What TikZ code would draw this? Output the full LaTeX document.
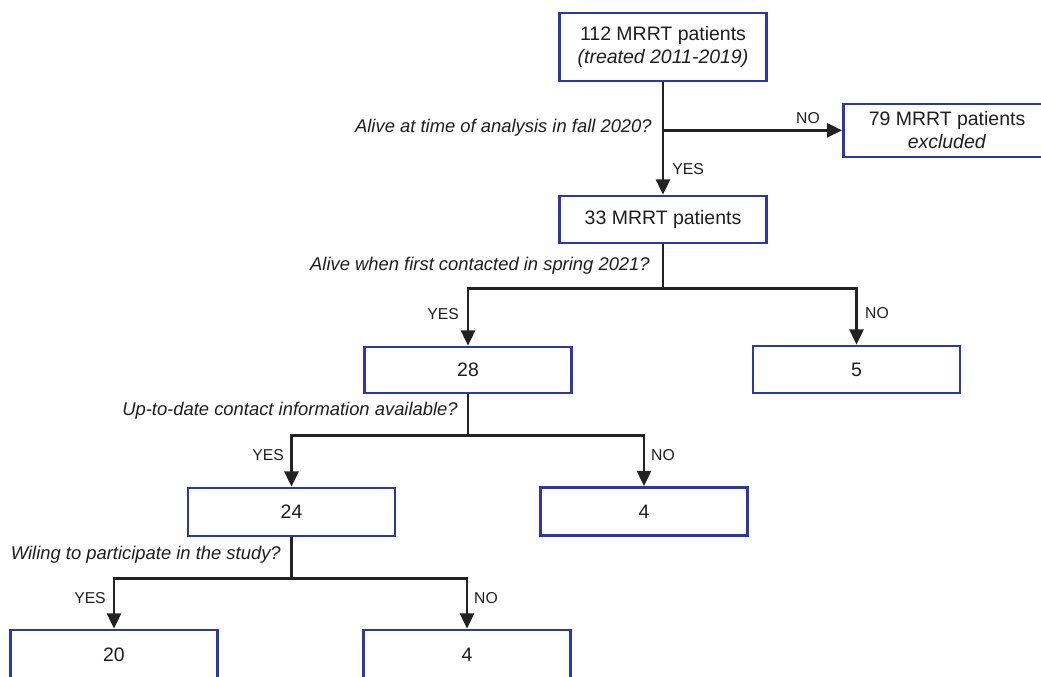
\documentclass[tikz,border=0pt]{standalone}
\usepackage{fontspec}
\setmainfont{Liberation Sans}
\usetikzlibrary{arrows.meta}
\definecolor{boxblue}{RGB}{44,56,168}
\definecolor{linegray}{RGB}{34,34,34}
\definecolor{txt}{RGB}{30,30,30}
\begin{document}
\begin{tikzpicture}[x=0.75pt,y=-0.75pt,
  box/.style={draw=boxblue,line width=2pt,fill=white,minimum width=155.25pt,minimum height=35.25pt,
    inner sep=0pt,align=center,text=txt,font=\fontsize{14.6}{17.25}\selectfont},
  conn/.style={draw=linegray,line width=2pt},
  arr/.style={conn,-{Triangle[length=11.5pt,width=10.5pt]}},
  quest/.style={text=txt,inner sep=0pt,font=\fontsize{13.8}{16}\selectfont\itshape},
  yn/.style={text=txt,inner sep=0pt,font=\fontsize{11.8}{14}\selectfont}]
\useasboundingbox (0,0) rectangle (1041,676);
\clip (0,0) rectangle (1041,676);
\fill[white] (0,0) rectangle (1041,676);
% boxes
\node[box,minimum height=51pt] (b112) at (663,47) {112 MRRT patients\\\textit{(treated 2011-2019)}};
\node[box,minimum height=39.75pt] (b79) at (947,130.5) {79 MRRT patients\\\textit{excluded}};
\node[box] (b33) at (663,219.5) {33 MRRT patients};
\node[box,minimum height=34.5pt] (b28) at (468,370) {28};
\node[box] (b5) at (856.5,369.5) {5};
\node[box,minimum height=36pt] (b24) at (291.5,512) {24};
\node[box,minimum height=36pt] (b4a) at (644,511.5) {4};
\node[box,minimum height=37.5pt] (b20) at (114,655) {20};
\node[box,minimum height=37.5pt] (b4b) at (467,655) {4};
% junctions
\path (b112.south) -- ++(0,48) coordinate (j1);
\path (b33.south) -- ++(0,44) coordinate (j2);
\path (b28.south) -- ++(0,41) coordinate (j3);
\path (b24.south) -- ++(0,41) coordinate (j4);
% connectors
\draw[arr] (b112.south) -- (b33.north);
\draw[arr] (j1) -- (j1 -| b79.west);
\draw[conn] (b33.south) -- (j2);
\draw[arr] (j2) -| (b28.north);
\draw[arr] (j2) -| (b5.north);
\draw[conn] (b28.south) -- (j3);
\draw[arr] (j3) -| (b24.north);
\draw[arr] (j3) -| (b4a.north);
\draw[conn] (b24.south) -- (j4);
\draw[arr] (j4) -| (b20.north);
\draw[arr] (j4) -| (b4b.north);
% questions
\node[quest,anchor=east] (q1) at (652,128) {Alive at time of analysis in fall 2020?};
\node[quest,anchor=east] (q2) at (650,266) {Alive when first contacted in spring 2021?};
\node[quest,anchor=east] (q3) at (458,411) {Up-to-date contact information available?};
\node[quest,anchor=east] (q4) at (281,555) {Wiling to participate in the study?};
% yes/no labels
\node[yn] (n1) at (808,118) {NO};
\node[yn] (y1) at (688,169) {YES};
\node[yn] (y2) at (443,314) {YES};
\node[yn] (n2) at (877,313) {NO};
\node[yn] (y3) at (268,455) {YES};
\node[yn] (n3) at (663,455) {NO};
\node[yn] (y4) at (90,598) {YES};
\node[yn] (n4) at (486,598) {NO};
\end{tikzpicture}
\end{document}
